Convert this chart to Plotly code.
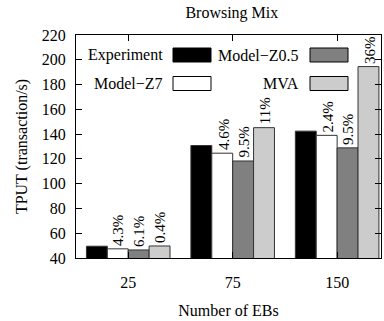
import plotly.graph_objects as go

categories = ["25", "75", "150"]
series_names = ["Experiment", "Model\u2212Z7", "Model\u2212Z0.5", "MVA"]
experiment = [49.5, 130.8, 142.4]
model_z7 = [47.4, 124.6, 139.0]
model_z05 = [46.5, 118.3, 128.9]
mva = [49.7, 145.2, 194.5]
err_z7 = ["4.3%", "4.6%", "2.4%"]
err_z05 = ["6.1%", "9.5%", "9.5%"]
err_mva = ["0.4%", "11%", "36%"]
y_ticks = [40, 60, 80, 100, 120, 140, 160, 180, 200, 220]

colors = ["#000000", "#ffffff", "#808080", "#cccccc"]
values = [experiment, model_z7, model_z05, mva]
FONT = "Liberation Serif"

xpos = list(range(len(categories)))
fig = go.Figure()
for name, vals, col in zip(series_names, values, colors):
    fig.add_trace(go.Bar(x=xpos, y=vals, name=name, marker_color=col,
                         marker_line_color="#333333", marker_line_width=1,
                         showlegend=False, hoverinfo="skip"))

fig.update_layout(
    width=384, height=321,
    margin=dict(l=76, r=3, t=35, b=63),
    barmode="group", bargap=0.2, bargroupgap=0,
    plot_bgcolor="white", paper_bgcolor="white",
    font=dict(family=FONT, size=16, color="black"),
    title=dict(text="Browsing Mix", xref="paper", x=0.511, xanchor="center",
               yref="container", y=0.962, yanchor="middle",
               font=dict(family=FONT, size=16, color="black")),
)
fig.update_xaxes(range=[-0.5, 2.42], tickvals=xpos, ticktext=categories,
                 ticks="inside", ticklen=6, tickcolor="black", mirror="ticks",
                 showline=True, linecolor="black", linewidth=1, showgrid=False,
                 zeroline=False, ticklabelstandoff=10,
                 title=dict(text="Number of EBs", standoff=14,
                            font=dict(family=FONT, size=16)))
fig.update_yaxes(range=[40, 220], tickvals=y_ticks,
                 ticks="inside", ticklen=6, tickcolor="black", mirror="ticks",
                 showline=True, linecolor="black", linewidth=1, showgrid=False,
                 zeroline=False, ticklabelstandoff=6,
                 title=dict(text="TPUT (transaction/s)", standoff=10,
                            font=dict(family=FONT, size=16)))

n = len(series_names)
w = 0.8 / n
for si, (vals, errs) in enumerate([(model_z7, err_z7), (model_z05, err_z05), (mva, err_mva)], start=1):
    off = -0.4 + w * (si + 0.5)
    for ci, (v, t) in enumerate(zip(vals, errs)):
        fig.add_annotation(x=ci + off, y=v, text=t, textangle=-90, showarrow=False,
                           xanchor="center", yanchor="bottom", yshift=1, xshift=1,
                           font=dict(family=FONT, size=15, color="black"))

# legend (gnuplot style: label then swatch)
def px2paper(px, py):
    return (px - 76) / 305, (258 - py) / 223

legend_items = [
    (series_names[0], colors[0], 165, 173, 211, 55),
    (series_names[2], colors[2], 301, 310, 348, 55),
    (series_names[1], colors[1], 165, 173, 211, 83.5),
    (series_names[3], colors[3], 301, 310, 348, 83.5),
]
for name, col, tx, x0, x1, yc in legend_items:
    ax0, ay0 = px2paper(x0, yc + 7)
    ax1, ay1 = px2paper(x1, yc - 7)
    fig.add_shape(type="rect", xref="paper", yref="paper", x0=ax0, x1=ax1, y0=ay0, y1=ay1,
                  fillcolor=col, line=dict(color="black", width=1))
    tx_p, ty_p = px2paper(tx, yc)
    fig.add_annotation(xref="paper", yref="paper", x=tx_p, y=ty_p, text=name,
                       showarrow=False, xanchor="right", yanchor="middle",
                       font=dict(family=FONT, size=16, color="black"))

fig.write_html("out.html", config={"displayModeBar": False},
               post_script="document.body.style.margin='0px';document.body.style.overflow='hidden';")
